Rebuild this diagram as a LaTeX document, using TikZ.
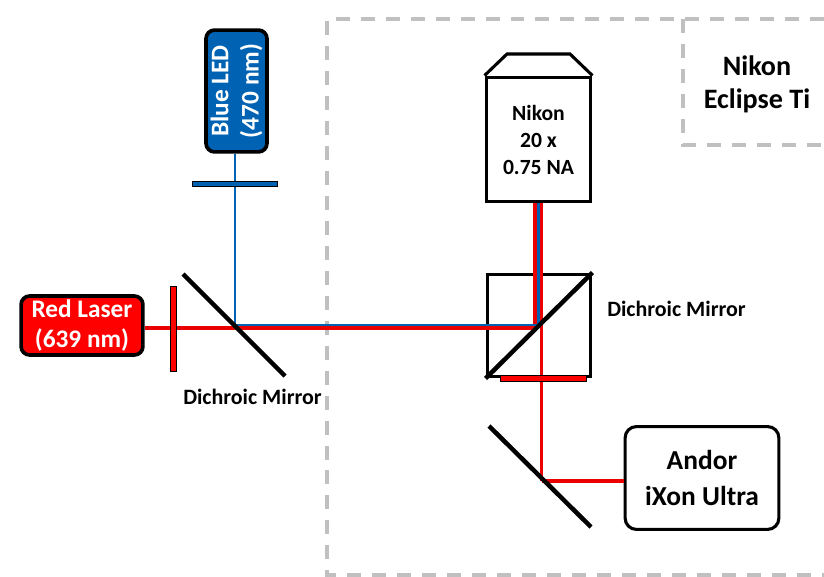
\documentclass[tikz,border=0pt]{standalone}
\usepackage{fontspec}
\setmainfont{Carlito}
\definecolor{ledblue}{RGB}{0,98,178}
\definecolor{framegray}{RGB}{192,192,192}
\begin{document}
\begin{tikzpicture}[
  x=0.025cm, y=-0.025cm,
  source/.style={rectangle, rounded corners=6pt, draw=black, line width=2.6pt, align=center, font=\bfseries, text=white, inner sep=0pt},
  filterbar/.style={rectangle, draw=black, line width=0.5pt, inner sep=0pt},
  mirror/.style={line width=3.2pt, draw=black},
  housing/.style={draw=black, line width=2.2pt},
  redbeam/.style={line width=2.2pt, draw=red!92!black},
  bluebeam/.style={line width=2pt, draw=ledblue},
  frameline/.style={line width=2.6pt, draw=framegray, dash pattern=on 14*0.71pt off 11*0.71pt},
  tag/.style={font=\bfseries, align=center, inner sep=0pt}
]
\useasboundingbox (0,0) rectangle (824,577);

% frame
\coordinate (ftop) at (327,19);
\coordinate (fright) at (824,19);
\coordinate (fbot) at (327,575);
\coordinate (fend) at (824,575);
\coordinate (ti) at (683,19);
\coordinate (tic) at (683,145);
\coordinate (tiend) at (824,145);
\draw[frameline] (fright) -- (ftop) -- (fbot) -- (fend);
\draw[frameline] (ti) -- (tic) -- (tiend);

% points on the beams
\coordinate (m1c) at (235,325);
\coordinate (m1r) at (235,328);
\coordinate (m2b) at (538.5,325);
\coordinate (m2r) at (535,328);
\coordinate (m3c) at (541.5,481);

% nodes
\node[source, fill=red, minimum width=122*0.71pt, minimum height=59*0.71pt, font=\bfseries\fontsize{18}{21.5}\selectfont] (laser) at (82,325.5) {Red Laser\\(639 nm)};
\node[source, fill=ledblue, minimum width=122*0.71pt, minimum height=61*0.71pt, rotate=90, font=\bfseries\fontsize{18}{21.5}\selectfont] (led) at (236.5,91) {Blue LED\\(470 nm)};
\node[rectangle, housing, minimum width=105*0.71pt, minimum height=125*0.71pt, align=center, font=\bfseries\fontsize{15.4}{19.2}\selectfont, inner sep=0pt] (obj) at (538.5,139.5) {Nikon\\20 x\\0.75 NA};
\node[rectangle, housing, minimum width=104*0.71pt, minimum height=103*0.71pt, inner sep=0pt] (cube) at (539,325.5) {};
\node[source, text=black, fill=white, rounded corners=8pt, line width=2.2pt, minimum width=154*0.71pt, minimum height=103*0.71pt, font=\bfseries\fontsize{19.5}{25}\selectfont] (cam) at (702,478) {Andor\\iXon Ultra};

% beams
\draw[redbeam] (laser.east |- m1r) -- (m1r) -- (m2r) -- (m2r |- obj.south);
\draw[redbeam] (m3c |- obj.south) -- (m3c);
\draw[redbeam] (cam.west |- m3c) -- (m3c);
\draw[bluebeam] (led.west -| m1c) -- (m1c) -- (m2b) -- (m2b |- obj.south);

% filters on top of the beams
\node[filterbar, fill=red, minimum width=6*0.71pt, minimum height=85*0.71pt] (redfilter) at (173.5,328.5) {};
\node[filterbar, fill=ledblue, minimum width=85*0.71pt, minimum height=5*0.71pt] (bluefilter) at (235,184) {};
\node[filterbar, fill=red, minimum width=86*0.71pt, minimum height=6*0.71pt] (cubefilter) at (543,378) {};

% objective cap and cube mirror
\draw[housing] (obj.north west) -- (507,54) -- (570,54) -- (obj.north east);
\draw[mirror] (cube.south west) -- (cube.north east);

% mirrors
\coordinate (m1a) at (183,274);
\coordinate (m1b) at (285,376);
\coordinate (m3a) at (489,426);
\coordinate (m3b) at (591,527);
\draw[mirror] (m1a) -- (m1b);
\draw[mirror] (m3a) -- (m3b);

% labels
\node[tag, font=\bfseries\fontsize{15.6}{18}\selectfont] (dm1) at (252.5,397) {Dichroic Mirror};
\node[tag, font=\bfseries\fontsize{15.6}{18}\selectfont] (dm2) at (676.5,309) {Dichroic Mirror};
\node[tag, font=\bfseries\fontsize{20}{23.5}\selectfont] (scope) at (757,84) {Nikon\\Eclipse Ti};
\end{tikzpicture}
\end{document}
